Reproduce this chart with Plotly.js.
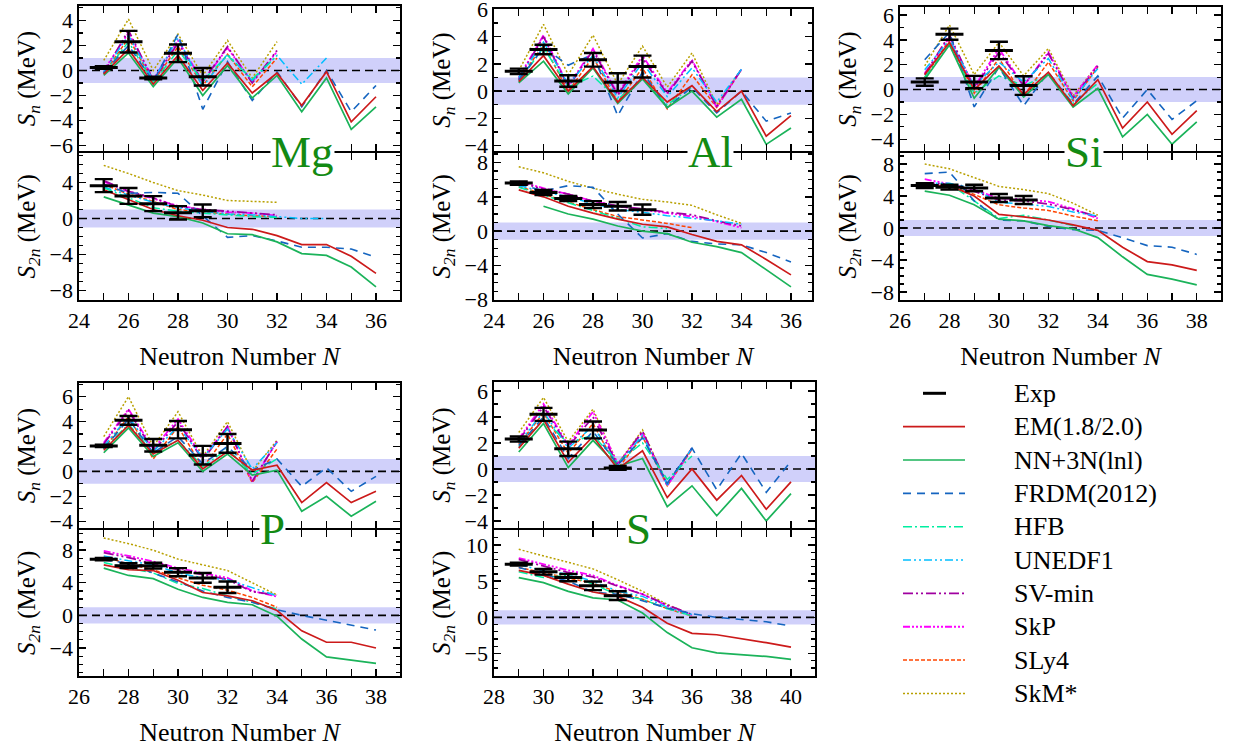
<!DOCTYPE html>
<html><head><meta charset="utf-8">
<script src="https://cdn.plot.ly/plotly-3.0.1.min.js"></script>
<style>html,body{margin:0;padding:0;background:#fff;}#chart{width:1235px;height:756px;}</style>
</head><body><div id="chart"></div>
<script>
// ---------------- DATA ----------------
// Neutron numbers per isotope chain
const Mg_N = [25,26,27,28,29,30,31,32,33,34,35,36];
const Al_N = [25,26,27,28,29,30,31,32,33,34,35,36];
const Si_N = [27,28,29,30,31,32,33,34,35,36,37,38];
const P_N  = [27,28,29,30,31,32,33,34,35,36,37,38];
const S_N  = [29,30,31,32,33,34,35,36,37,38,39,40];

// ---- Mg ----
const Mg_Sn = {
  EM:    [-0.3, 1.7, -1.1, 1.2, -1.6, 0.6, -1.8, -0.2, -2.8, -0.1, -4.1, -2.1],
  NN:    [-0.4, 1.4, -1.3, 1.0, -2.0, 0.4, -2.2, -0.4, -3.3, -0.6, -4.7, -2.9],
  FRDM:  [-0.2, 2.0, -0.9, 2.9, -3.1, 0.7, -2.4, -0.1, -2.9, 0.0, -3.3, -1.2],
  HFB:   [-0.3, 2.3, -1.0, 1.6, -0.8, 1.2, -0.7, 1.2],
  UNEDF1:[-0.1, 2.8, -0.8, 2.6, -1.3, 1.3, -0.8, 1.2, -1.1, 1.0],
  SVmin: [-0.2, 3.2, -0.8, 2.2, -0.9, 1.9, -1.0, 1.6],
  SkP:   [0.0, 3.0, -0.7, 2.4, -0.9, 1.8, -0.9, 1.5],
  SLy4:  [-0.3, 2.6, -0.9, 1.9, -1.2, 1.3, -1.3, 1.0],
  SkM:   [0.8, 4.1, 0.0, 2.9, -0.4, 2.4, -0.6, 2.3]
};
const Mg_Sn_exp = [0.24, 2.3, -0.6, 1.37, -0.5];
const Mg_Sn_err = [0.1, 0.86, 0.1, 0.7, 0.7];
const Mg_S2n = {
  EM:    [3.2, 2.1, 1.0, 0.3, -0.2, -1.0, -1.2, -1.9, -2.9, -2.9, -4.2, -6.1],
  NN:    [2.4, 1.5, 0.6, 0.2, -0.5, -1.7, -1.8, -2.6, -3.9, -4.1, -5.4, -7.6],
  FRDM:  [3.8, 2.8, 2.9, 2.8, 0.3, -2.1, -1.9, -2.5, -3.2, -3.2, -3.4, -4.3],
  HFB:   [3.4, 2.3, 1.2, 0.8, 0.6, 0.4, 0.2, 0.1],
  UNEDF1:[3.5, 2.6, 1.8, 1.2, 0.8, 0.5, 0.4, 0.2, 0.0, 0.0],
  SVmin: [4.2, 3.0, 2.3, 1.3, 1.0, 0.8, 0.6, 0.4],
  SkP:   [4.1, 3.0, 2.2, 1.4, 1.0, 0.7, 0.6, 0.3],
  SLy4:  [3.8, 2.7, 1.9, 1.0, 0.7, 0.5, 0.3, 0.2],
  SkM:   [5.9, 5.0, 4.0, 3.1, 2.6, 2.0, 1.9, 1.8]
};
const Mg_S2n_exp = [3.65, 2.5, 1.65, 0.63, 0.85];
const Mg_S2n_err = [0.72, 0.88, 0.83, 0.74, 0.7];

// ---- Al ----
const Al_Sn = {
  EM:    [0.7, 2.6, 0.0, 1.8, -0.8, 1.0, -0.8, 0.4, -1.5, 0.0, -3.3, -1.8],
  NN:    [0.6, 2.2, -0.2, 1.7, -0.9, 0.9, -1.2, 0.0, -1.9, -0.6, -3.9, -2.7],
  FRDM:  [0.8, 3.2, 1.9, 2.7, -1.8, 1.4, -1.2, 0.3, -1.6, 0.0, -2.2, -1.6],
  HFB:   [0.7, 3.2, 0.3, 1.1, -0.6, 0.9, -1.0, 0.3],
  UNEDF1:[1.0, 3.6, 0.5, 2.6, -0.5, 2.1, -0.4, 1.7, -0.8, 1.6],
  SVmin: [0.9, 4.0, 0.3, 3.0, -0.3, 2.4, -0.2, 2.2, -1.1, 1.6],
  SkP:   [1.0, 4.1, 0.4, 3.1, -0.2, 2.6, -0.1, 2.3, -1.2, 1.6],
  SLy4:  [0.8, 3.4, 0.0, 2.5, -0.8, 1.7, -1.3, 1.2, -1.2, 1.6],
  SkM:   [1.5, 4.9, 1.2, 4.1, 0.5, 3.3, 0.3, 2.8, -1.0, 1.6]
};
const Al_Sn_exp = [1.45, 3.05, 0.74, 2.3, 0.66, 1.8];
const Al_Sn_err = [0.2, 0.35, 0.42, 0.5, 0.65, 0.8];
const Al_S2n = {
  EM:    [4.8, 4.0, 2.9, 2.1, 1.4, 0.8, 0.5, -0.4, -1.2, -1.6, -3.3, -5.1],
  NN:    [null, 2.9, 2.0, 1.4, 0.6, 0.0, -0.3, -1.3, -1.8, -2.5, -4.5, -6.5],
  FRDM:  [5.5, 4.7, 5.3, 5.1, 2.0, -0.8, -0.3, -1.2, -1.5, -1.6, -2.5, -3.6],
  HFB:   [5.1, 4.2, 3.3, 2.4, 1.5, 0.5, 0.3],
  UNEDF1:[5.3, 4.6, 4.0, 3.2, 2.5, 2.2, 1.8, 1.5, 1.2, 0.8],
  SVmin: [5.7, 4.9, 4.3, 3.5, 2.9, 2.6, 2.2, 1.9, 1.2, 0.6],
  SkP:   [5.8, 5.0, 4.3, 3.5, 2.9, 2.5, 2.1, 1.7, 1.1, 0.4],
  SLy4:  [5.2, 4.3, 3.4, 2.5, 1.7, 1.3, 0.9, 0.4],
  SkM:   [7.5, 6.8, 5.8, 5.0, 4.3, 3.7, 3.4, 3.0, 1.9, 0.9]
};
const Al_S2n_exp = [5.6, 4.5, 3.8, 3.1, 2.9, 2.5];
const Al_S2n_err = [0.2, 0.3, 0.3, 0.4, 0.5, 0.6];

// ---- Si ----
const Si_Sn = {
  EM:    [1.2, 3.8, 0.0, 1.9, -0.4, 1.4, -1.3, 0.8, -3.1, -1.0, -3.6, -1.7],
  NN:    [0.8, 3.6, -0.7, 1.8, -0.6, 1.2, -1.4, 0.1, -3.8, -2.0, -4.4, -2.6],
  FRDM:  [2.4, 4.6, -1.4, 1.8, -1.3, 1.4, -1.2, 1.1, -2.3, 0.0, -2.4, -0.9],
  HFB:   [1.0, 3.6, -0.3, 1.1, 0.3, 1.2, -1.1, 0.5],
  UNEDF1:[1.6, 4.0, 0.3, 2.2, 0.6, 2.5, -0.8, 1.7],
  SVmin: [1.2, 4.4, 0.1, 3.0, 0.3, 2.9, -0.7, 1.9],
  SkP:   [1.3, 4.2, 0.2, 3.3, 0.3, 3.0, -0.6, 2.0],
  SLy4:  [1.0, 4.0, -0.3, 2.5, -0.5, 2.2, -0.9, 1.8],
  SkM:   [1.9, 5.2, 1.2, 3.8, 1.1, 3.3, -0.5, 2.0]
};
const Si_Sn_exp = [0.6, 4.45, 0.6, 3.15, 0.32];
const Si_Sn_err = [0.3, 0.45, 0.5, 0.7, 0.75];
const Si_S2n = {
  EM:    [5.2, 5.3, 4.0, 1.7, 1.4, 1.0, 0.4, -0.3, -2.4, -4.2, -4.6, -5.3],
  NN:    [4.6, 4.1, 2.9, 1.1, 0.9, 0.3, -0.1, -1.2, -3.6, -5.8, -6.4, -7.1],
  FRDM:  [6.8, 7.0, 3.4, 1.0, 0.9, 0.2, -0.2, -0.3, -1.2, -2.2, -2.4, -3.3],
  HFB:   [5.1, 5.5, 3.4, 1.2, 1.6, 1.0, 0.3],
  UNEDF1:[5.6, 5.6, 4.9, 3.2, 3.0, 2.7, 2.0, 1.5],
  SVmin: [5.6, 5.5, 4.6, 3.5, 3.4, 3.0, 2.3, 1.4],
  SkP:   [6.1, 5.5, 4.8, 3.7, 3.6, 3.3, 2.4, 1.2],
  SLy4:  [5.3, 5.2, 4.2, 2.9, 2.5, 2.2, 1.5, 0.9],
  SkM:   [8.0, 7.4, 6.3, 5.2, 4.8, 4.3, 3.1, 1.6]
};
const Si_S2n_exp = [5.3, 5.1, 5.0, 3.75, 3.5];
const Si_S2n_err = [0.3, 0.3, 0.4, 0.5, 0.5];

// ---- P ----
const P_Sn = {
  EM:    [1.7, 3.7, 1.4, 2.5, 0.2, 1.6, 0.1, 0.5, -2.5, -0.9, -2.5, -1.6],
  NN:    [1.5, 3.5, 1.2, 2.3, 0.0, 1.4, -0.3, 0.1, -3.2, -2.0, -3.6, -2.4],
  FRDM:  [1.8, 4.2, 1.5, 2.8, 0.6, 2.0, 0.1, 1.0, -1.2, 0.3, -1.6, -0.4],
  HFB:   [1.8, 3.8, 1.5, 2.5, 0.4, 1.8, -0.2, 1.0],
  UNEDF1:[2.0, 4.4, 1.6, 3.6, 1.1, 3.4, 0.2, 2.3],
  SVmin: [2.2, 4.9, 1.6, 4.0, 0.9, 3.6, -0.8, 2.4],
  SkP:   [2.3, 5.0, 1.8, 4.2, 1.1, 3.6, -0.8, 2.4],
  SLy4:  [1.8, 4.4, 1.0, 3.6, 0.3, 3.0, -0.9, 1.8],
  SkM:   [2.8, 6.0, 2.0, 4.8, 1.2, 4.0, 0.0, 2.5]
};
const P_Sn_exp = [2.05, 4.1, 2.1, 3.35, 1.3, 2.25];
const P_Sn_err = [0.1, 0.35, 0.5, 0.7, 0.75, 0.75];
const P_S2n = {
  EM:    [6.2, 5.6, 5.5, 4.3, 2.8, 2.4, 1.8, 0.6, -1.9, -3.3, -3.3, -4.0],
  NN:    [5.8, 4.9, 4.5, 3.2, 2.2, 1.6, 1.3, -0.1, -2.9, -5.1, -5.5, -5.9],
  FRDM:  [6.8, 6.4, 5.2, 4.1, 3.0, 2.2, 1.6, 0.7, 0.0, -0.6, -1.2, -1.8],
  HFB:   [6.5, 5.8, 5.2, 3.9, 3.3, 2.4, 1.6, 0.8],
  UNEDF1:[7.3, 6.7, 6.2, 5.2, 4.6, 4.4, 3.4, 2.4],
  SVmin: [7.7, 7.1, 6.3, 5.6, 5.0, 4.4, 2.9, 2.5],
  SkP:   [7.9, 7.3, 6.6, 5.8, 5.2, 4.6, 3.0, 2.3],
  SLy4:  [7.2, 6.3, 5.6, 4.6, 3.7, 3.1, 2.2, 1.0],
  SkM:   [9.5, 8.8, 8.0, 6.9, 6.2, 5.5, 4.0, 2.5]
};
const P_S2n_exp = [6.9, 6.1, 6.1, 5.3, 4.6, 3.45];
const P_S2n_err = [0.15, 0.3, 0.35, 0.5, 0.6, 0.7];

// ---- S ----
const S_Sn = {
  EM:    [1.6, 3.8, 0.5, 2.5, 0.0, 1.4, -2.2, 0.0, -2.4, -0.5, -3.1, -1.0],
  NN:    [1.3, 3.5, 0.1, 2.2, 0.2, 0.8, -2.9, -1.3, -3.6, -1.5, -4.0, -1.9],
  FRDM:  [1.8, 4.0, 0.8, 2.9, 0.3, 2.4, -1.1, 1.6, -1.6, 1.2, -1.8, 0.6],
  HFB:   [1.7, 3.8, 2.0, 2.6, 0.5, 2.0, -0.8, 1.0],
  UNEDF1:[2.0, 4.4, 1.6, 3.3, 0.3, 2.6, -1.2, 1.6],
  SVmin: [2.2, 4.8, 1.7, 4.0, 0.3, 2.9, -1.2, 1.6],
  SkP:   [2.3, 5.0, 1.8, 4.4, 0.4, 2.8, -1.3, 1.6],
  SLy4:  [1.9, 4.3, 1.2, 3.5, 0.0, 2.5, -1.3, 1.5],
  SkM:   [2.8, 5.5, 2.1, 4.6, 0.4, 3.0, -1.2, 1.6]
};
const S_Sn_exp = [2.3, 4.2, 1.55, 3.0, 0.08];
const S_Sn_err = [0.2, 0.5, 0.55, 0.65, 0.15];
const S_S2n = {
  EM:    [6.5, 5.8, 4.6, 3.5, 2.9, 1.4, -0.8, -2.2, -2.4, -2.9, -3.5, -4.1],
  NN:    [5.5, 4.8, 3.6, 2.7, 2.4, 0.6, -2.1, -4.2, -4.9, -5.1, -5.4, -5.8],
  FRDM:  [6.9, 6.0, 5.0, 3.5, 3.2, 2.3, 1.3, 0.5, 0.0, -0.3, -0.6, -1.2],
  HFB:   [6.3, 5.5, 5.8, 4.6, 3.1, 2.5, 1.2, 0.2],
  UNEDF1:[7.3, 6.4, 6.0, 5.0, 3.6, 2.9, 1.4, 0.4],
  SVmin: [8.0, 7.1, 6.2, 5.6, 4.3, 3.2, 1.7, 0.4],
  SkP:   [8.2, 7.3, 6.5, 5.8, 4.4, 3.2, 1.6, 0.3],
  SLy4:  [6.9, 6.2, 5.5, 4.7, 3.5, 2.5, 1.2, 0.2],
  SkM:   [9.4, 8.5, 7.6, 6.7, 5.2, 3.6, 1.8, 0.3]
};
const S_S2n_exp = [7.35, 6.3, 5.5, 4.36, 3.0];
const S_S2n_err = [0.2, 0.4, 0.5, 0.6, 0.6];

// legend labels
const modelKeys  = ['EM','NN','FRDM','HFB','UNEDF1','SVmin','SkP','SLy4','SkM'];
const modelNames = ['EM(1.8/2.0)','NN+3N(lnl)','FRDM(2012)','HFB','UNEDF1','SV-min','SkP','SLy4','SkM*'];

// ---------------- STYLE / LAYOUT ----------------
const W = 1235, H = 756;
const FONT = '"Liberation Serif", serif';
const LW = 1.6; // frame line width
const STY = {
  EM:    {color:'#cc1a1a', dash:'solid', width:1.7},
  NN:    {color:'#1bb35a', dash:'solid', width:1.7},
  FRDM:  {color:'#1565c0', dash:'8px,6px', width:1.6},
  HFB:   {color:'#00eea0', dash:'9px,3px,2px,3px', width:1.5},
  UNEDF1:{color:'#00bfff', dash:'8px,3px,2px,3px,2px,3px', width:1.5},
  SVmin: {color:'#a000a0', dash:'10px,3px,2px,3px,2px,3px', width:1.8},
  SkP:   {color:'#ff00ff', dash:'7px,2px,2px,2px,2px,2px,2px,2px', width:1.8},
  SLy4:  {color:'#ff4500', dash:'4px,2px', width:1.5},
  SkM:   {color:'#b8a000', dash:'2px,2px', width:1.5}
};
const drawOrder = ['SkM','SLy4','SkP','SVmin','UNEDF1','HFB','FRDM','NN','EM'];

// px: plot x-extent; yTop / yMid / yBot: plot y pixel positions (top, shared border, bottom)
const panels = [
  {el:'Mg', N:Mg_N, Sn:Mg_Sn, S2n:Mg_S2n, SnE:Mg_Sn_exp, SnErr:Mg_Sn_err, S2nE:Mg_S2n_exp, S2nErr:Mg_S2n_err,
   px:[79,400], xr:[24,36.97], yTop:6, yMid:152, yBot:300, snR:[-6.45,5.15], s2nR:[-9.06,7.3], snD:2, s2nD:4, lab:[302,152]},
  {el:'Al', N:Al_N, Sn:Al_Sn, S2n:Al_S2n, SnE:Al_Sn_exp, SnErr:Al_Sn_err, S2nE:Al_S2n_exp, S2nErr:Al_S2n_err,
   px:[494,812], xr:[24,36.85], yTop:9, yMid:152, yBot:300, snR:[-4.4,6.02], s2nR:[-8.03,9.13], snD:2, s2nD:4, lab:[710,152]},
  {el:'Si', N:Si_N, Sn:Si_Sn, S2n:Si_S2n, SnE:Si_Sn_exp, SnErr:Si_Sn_err, S2nE:Si_S2n_exp, S2nErr:Si_S2n_err,
   px:[900,1221], xr:[26,38.98], yTop:7, yMid:152, yBot:300, snR:[-4.96,6.64], s2nR:[-9.0,9.4], snD:2, s2nD:4, lab:[1084,152]},
  {el:'P', N:P_N, Sn:P_Sn, S2n:P_S2n, SnE:P_Sn_exp, SnErr:P_Sn_err, S2nE:P_S2n_exp, S2nErr:P_S2n_err,
   px:[79,400], xr:[26,38.97], yTop:383, yMid:529, yBot:676, snR:[-4.56,7.1], s2nR:[-7.44,10.5], snD:2, s2nD:4, lab:[272,529]},
  {el:'S', N:S_N, Sn:S_Sn, S2n:S_S2n, SnE:S_Sn_exp, SnErr:S_Sn_err, S2nE:S_S2n_exp, S2nErr:S_S2n_err,
   px:[494,815], xr:[28,40.97], yTop:382, yMid:529, yBot:676, snR:[-4.56,6.69], s2nR:[-8.1,12.1], snD:2, s2nD:5, lab:[638,529]}
];

const traces = [];
const layout = {
  width: W, height: H, margin:{l:0,r:0,t:0,b:0}, showlegend:false,
  paper_bgcolor:'white', plot_bgcolor:'rgba(0,0,0,0)',
  font:{family:FONT, color:'black'},
  shapes:[], annotations:[]
};

function axBase(){
  return {
    showline:true, linecolor:'black', linewidth:LW, mirror:'ticks',
    ticks:'inside', ticklen:7, tickwidth:1.4, tickcolor:'black',
    showgrid:false, zeroline:false, ticklabeloverflow:'allow',
    tickfont:{family:FONT, size:22, color:'black'},
    minor:{ticks:'inside', ticklen:4, tickwidth:1.2, tickcolor:'black', dtick:1, showgrid:false}
  };
}

function addSubplot(k, p, which){
  const xa = k===1 ? 'x' : 'x'+k, ya = k===1 ? 'y' : 'y'+k;
  const xk = k===1 ? 'xaxis' : 'xaxis'+k, yk = k===1 ? 'yaxis' : 'yaxis'+k;
  const isSn = which==='Sn';
  // shift the shared border so that both frame lines coincide
  const ypx = isSn ? [p.yTop, p.yMid - LW/2] : [p.yMid + LW/2, p.yBot];
  const x = axBase();
  Object.assign(x, {domain:[p.px[0]/W, p.px[1]/W], range:p.xr, anchor:ya, dtick:2, tick0:0,
                    showticklabels:!isSn});
  x.minor.ticklen = 7;
  if(!isSn){ x.title = {text:'Neutron Number <i>N</i>', font:{family:FONT,size:26,color:'black'}, standoff:15}; }
  const y = axBase();
  Object.assign(y, {domain:[1-ypx[1]/H, 1-ypx[0]/H], range:isSn ? p.snR : p.s2nR, anchor:xa,
                    dtick:isSn ? p.snD : p.s2nD, tick0:0,
                    title:{text: isSn ? '<i>S</i><sub><i>n</i></sub> (MeV)' : '<i>S</i><sub><i>2n</i></sub> (MeV)',
                           font:{family:FONT,size:25,color:'black'}, standoff:7}});
  layout[xk] = x; layout[yk] = y;

  // +-1 MeV band and zero line
  layout.shapes.push({type:'rect', xref:xa+' domain', yref:ya, x0:0, x1:1, y0:-1, y1:1,
                      fillcolor:'rgba(80,80,235,0.27)', line:{width:0}, layer:'below'});
  layout.shapes.push({type:'line', xref:xa+' domain', yref:ya, x0:0, x1:1, y0:0, y1:0,
                      line:{color:'black', width:1.6, dash:'8px,5px'}, layer:'below'});

  const vals = isSn ? p.Sn : p.S2n;
  drawOrder.forEach(m => {
    const v = vals[m];
    traces.push({type:'scatter', mode:'lines', x:p.N.slice(0, v.length), y:v, xaxis:xa, yaxis:ya,
                 name: modelNames[modelKeys.indexOf(m)], connectgaps:false,
                 line:{color:STY[m].color, dash:STY[m].dash, width:STY[m].width}, hoverinfo:'skip'});
  });
  const ev = isSn ? p.SnE : p.S2nE, ee = isSn ? p.SnErr : p.S2nErr;
  traces.push({type:'scatter', mode:'markers', name:'Exp', x:p.N.slice(0, ev.length), y:ev, xaxis:xa, yaxis:ya,
               marker:{symbol:'line-ew', size:20, color:'black', line:{width:3, color:'black'}},
               error_y:{type:'data', array:ee, visible:true, color:'black', thickness:2.4, width:9},
               hoverinfo:'skip'});
}

panels.forEach((p,i) => {
  addSubplot(2*i+1, p, 'Sn');
  addSubplot(2*i+2, p, 'S2n');
  layout.annotations.push({text:p.el, xref:'paper', yref:'paper', x:p.lab[0]/W, y:1-p.lab[1]/H,
    xanchor:'center', yanchor:'middle', showarrow:false, bgcolor:'white', borderpad:0,
    font:{family:FONT, size:45, color:'#138a13'}});
});

// ---- manual legend ----
const legRows = ['Exp'].concat(modelKeys);
const legLabels = ['Exp'].concat(modelNames);
legRows.forEach((m,i) => {
  const yy = 393.3 + 33.35*i;
  const yp = 1 - yy/H;
  if(m==='Exp'){
    layout.shapes.push({type:'line', xref:'paper', yref:'paper', x0:923/W, x1:946/W, y0:yp, y1:yp,
                        line:{color:'black', width:3}});
  } else {
    layout.shapes.push({type:'line', xref:'paper', yref:'paper', x0:903/W, x1:965/W, y0:yp, y1:yp,
                        line:{color:STY[m].color, width:STY[m].width, dash:STY[m].dash}});
  }
  layout.annotations.push({text:legLabels[i], xref:'paper', yref:'paper', x:1012/W, y:yp,
    xanchor:'left', yanchor:'middle', showarrow:false, font:{family:FONT, size:26, color:'black'}});
});

Plotly.newPlot('chart', traces, layout, {displayModeBar:false, staticPlot:true});
</script>
</body></html>
